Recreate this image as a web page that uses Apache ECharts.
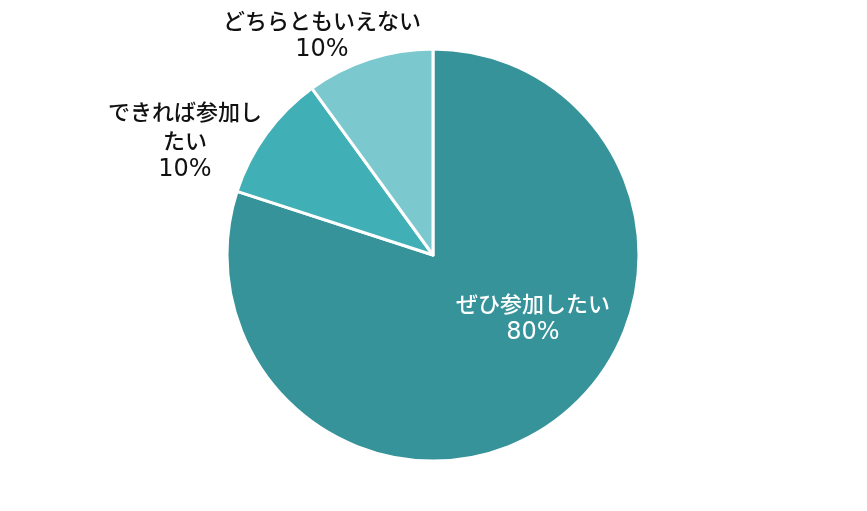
<!DOCTYPE html>
<html><head><meta charset="utf-8">
<script src="https://cdn.jsdelivr.net/npm/echarts@6/dist/echarts.min.js"></script>
<style>html,body{margin:0;padding:0;background:#fff}#c{width:867px;height:511px}</style>
</head><body><div id="c"></div>
<script>
const categories = ['ぜひ参加したい', 'できれば参加したい', 'どちらともいえない'];
const labelLines = [['ぜひ参加したい'], ['できれば参加し', 'たい'], ['どちらともいえない']];
const values = [80, 10, 10];
const colors = ['#36939A', '#41AFB6', '#7CC8CF'];
const labelPos = [[533, 318], [185, 141], [322, 35]];
const labelColors = ['#ffffff', '#111111', '#111111'];

const chart = echarts.init(document.getElementById('c'));
chart.setOption({
  animation: false,
  series: [{
    type: 'pie',
    center: [433, 255],
    radius: [0, 206],
    startAngle: 90,
    clockwise: true,
    data: categories.map((c, i) => ({
      name: c, value: values[i],
      itemStyle: { color: colors[i] },
      label: {
        color: labelColors[i],
        formatter: labelLines[i].map(t => '{n|' + t + '}').join('\n') + '\n{p|' + values[i] + '%}',
        rich: {
          n: { color: labelColors[i], fontFamily: '"Noto Sans CJK JP"', fontSize: 22, fontWeight: 500, lineHeight: 29, align: 'center' },
          p: { color: labelColors[i], fontFamily: '"DejaVu Sans"', fontSize: 24, fontWeight: 'normal', lineHeight: 29, align: 'center' }
        }
      }
    })),
    itemStyle: { borderColor: '#fff', borderWidth: 3 },
    label: {
      show: true, position: 'inside', align: 'center'
    },
    labelLine: { show: false },
    labelLayout: function (p) {
      const pos = labelPos[p.dataIndex];
      return { x: pos[0], y: pos[1], align: 'center', verticalAlign: 'middle' };
    }
  }]
});
</script></body></html>
